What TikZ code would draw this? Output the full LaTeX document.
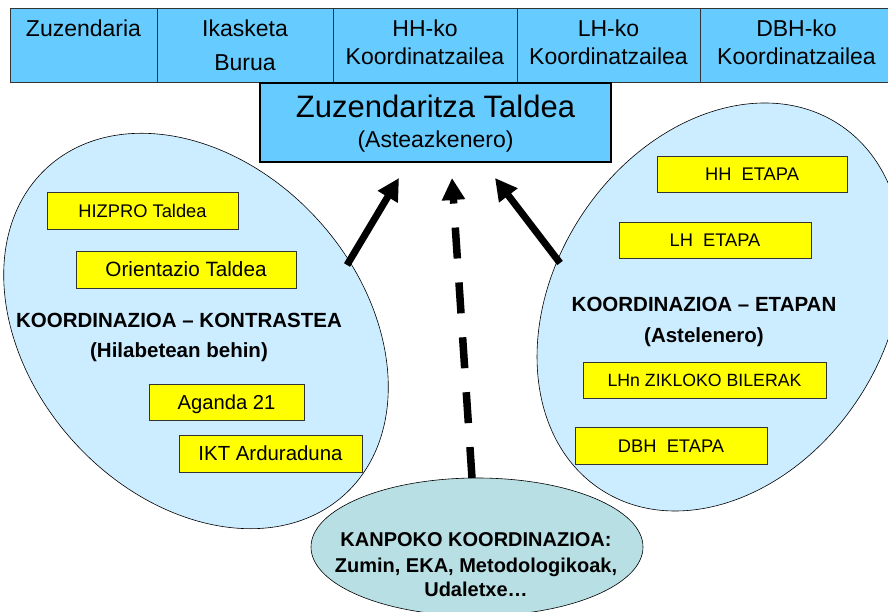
\documentclass[tikz,border=0pt]{standalone}
\usepackage{fontspec}
\setmainfont{Liberation Sans}
\usetikzlibrary{arrows.meta,shapes.geometric}
\definecolor{topblue}{HTML}{66CCFF}
\definecolor{ellblue}{HTML}{CCECFF}
\definecolor{ellteal}{HTML}{B8DFE3}
\definecolor{yel}{HTML}{FFFF00}
\begin{document}
\begin{tikzpicture}[x=1pt,y=1pt,
  topbox/.style={draw=black!80, fill=topblue, line width=0.8pt, minimum height=74pt, inner sep=0pt},
  toptext/.style={font=\fontsize{23}{27}\selectfont, anchor=base, inner sep=0pt},
  ybox/.style={draw=black!80, fill=yel, line width=0.7pt, inner sep=0pt, text depth=0pt},
  ell/.style={ellipse, draw=black, line width=0.6pt, fill=ellblue, inner sep=0pt},
  btext/.style={font=\bfseries\fontsize{20.5}{24}\selectfont, anchor=base, inner sep=0pt},
  ktext/.style={font=\bfseries\fontsize{20}{24}\selectfont, anchor=base, inner sep=0pt},
  bigarrow/.style={line width=7pt, -{Triangle[length=22pt,width=22pt]}},
]
\useasboundingbox (0,0) rectangle (888,612);
\clip (0,0) rectangle (888,612);

% ellipses
\node[ell, minimum width=442pt, minimum height=330pt, rotate=-47.8] (le) at (196,281) {};
\node[ell, minimum width=436pt, minimum height=332pt, rotate=57] (re) at (720,305) {};
\node[ell, fill=ellteal, minimum width=332pt, minimum height=138pt] (be) at (477,65) {};

% top row
\node[topbox, minimum width=147pt] (b1) at (83.5,567) {};
\node[topbox, minimum width=176pt] (b2) at (245,567) {};
\node[topbox, minimum width=184pt] (b3) at (425,567) {};
\node[topbox, minimum width=183pt] (b4) at (608.5,567) {};
\node[topbox, minimum width=193pt] (b5) at (796.5,567) {};
\node[toptext] (t1) at (83.5,575.3) {Zuzendaria};
\node[toptext] (t2a) at (245,575.3) {Ikasketa};
\node[toptext] (t2b) at (245,541.3) {Burua};
\node[toptext] (t3a) at (425,575.3) {HH-ko};
\node[toptext] (t3b) at (425,547) {Koordinatzailea};
\node[toptext] (t4a) at (608.5,575.3) {LH-ko};
\node[toptext] (t4b) at (608.5,547) {Koordinatzailea};
\node[toptext] (t5a) at (796.5,575.3) {DBH-ko};
\node[toptext] (t5b) at (796.5,547) {Koordinatzailea};

% main box
\node[draw=black, line width=2.4pt, fill=topblue, minimum width=351pt, minimum height=79pt, inner sep=0pt] (zt) at (435.5,489.5) {};
\node[anchor=base, inner sep=0pt, font=\fontsize{31}{34}\selectfont] (ztt) at (435.5,494) {Zuzendaritza Taldea};
\node[anchor=base, inner sep=0pt, font=\fontsize{23}{27}\selectfont] (zts) at (435.5,464) {(Asteazkenero)};

% left ellipse content
\node[ybox, minimum width=191pt, minimum height=37pt, font=\fontsize{18.3}{20}\selectfont, text height=13.1pt] (hiz) at (142.5,401.5) {HIZPRO Taldea};
\node[ybox, minimum width=220pt, minimum height=37pt, font=\fontsize{20.7}{22}\selectfont, text height=14.8pt] (ori) at (186,342.5) {Orientazio Taldea};
\node[btext] (lt1) at (179,284) {KOORDINAZIOA – KONTRASTEA};
\node[btext] (lt2) at (179,254) {(Hilabetean behin)};
\node[ybox, minimum width=155pt, minimum height=36pt, font=\fontsize{20.2}{22}\selectfont, text height=14.4pt] (aga) at (226.5,210) {Aganda 21};
\node[ybox, minimum width=183pt, minimum height=37pt, font=\fontsize{20.4}{22}\selectfont, text height=14.6pt] (ikt) at (270.5,158.5) {IKT Arduraduna};

% right ellipse content
\node[ybox, minimum width=190pt, minimum height=36pt, font=\fontsize{18.3}{20}\selectfont, text height=13.1pt] (hh) at (752,438) {HH\ \ ETAPA};
\node[ybox, minimum width=192pt, minimum height=36pt, font=\fontsize{18.3}{20}\selectfont, text height=13.1pt] (lh) at (715,372) {LH\ \ ETAPA};
\node[btext] (rt1) at (704,300) {KOORDINAZIOA – ETAPAN};
\node[btext] (rt2) at (704,269) {(Astelenero)};
\node[ybox, minimum width=243pt, minimum height=36pt, font=\fontsize{17.7}{20}\selectfont, text height=12.7pt] (lhn) at (704.5,232) {LHn ZIKLOKO BILERAK};
\node[ybox, minimum width=192pt, minimum height=37pt, font=\fontsize{18.3}{20}\selectfont, text height=13.1pt] (dbh) at (671,166.5) {DBH\ \ ETAPA};

% bottom ellipse text
\node[ktext] (k1) at (476,65) {KANPOKO KOORDINAZIOA:};
\node[ktext] (k2) at (476,39) {Zumin, EKA, Metodologikoak,};
\node[ktext] (k3) at (476,15) {Udaletxe…};

% arrows
\coordinate (a1s) at (347,347);
\coordinate (a1e) at (399,434);
\coordinate (a2s) at (560,349);
\coordinate (a2e) at (495,434);
\coordinate (a3s) at (472,134);
\coordinate (a3e) at (452,434);
\draw[bigarrow] (a1s) -- (a1e);
\draw[bigarrow] (a2s) -- (a2e);
\draw[bigarrow, line width=7.5pt, dash pattern=on 31pt off 24pt] (a3s) -- (a3e);
\end{tikzpicture}
\end{document}
